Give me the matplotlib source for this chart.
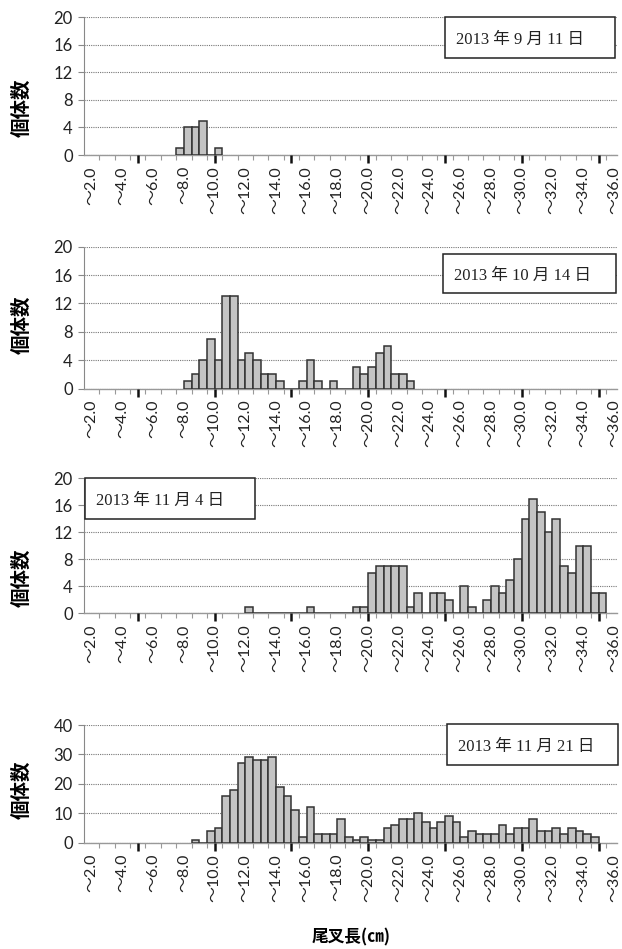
import numpy as np
import matplotlib
matplotlib.use("Agg")
import matplotlib.pyplot as plt
from matplotlib.patches import Rectangle

plt.rcParams["font.family"] = ["Lato", "Noto Sans CJK JP", "DejaVu Sans"]

W, H = 622, 949

# 0.5 cm length classes, named by their upper bound; every 4th class is labelled
label_cm = [2.0, 4.0, 6.0, 8.0, 10.0, 12.0, 14.0, 16.0, 18.0,
            20.0, 22.0, 24.0, 26.0, 28.0, 30.0, 32.0, 34.0, 36.0]
x_labels = ["～" + f"{v:.1f}" for v in label_cm]

dates = ["2013 年 9 月 11 日", "2013 年 10 月 14 日",
         "2013 年 11 月 4 日", "2013 年 11 月 21 日"]

# counts per class, the first value belongs to the class "～<first>"
sep11_first = 8.0
sep11 = [1, 4, 4, 5, 0, 1]

oct14_first = 8.5
oct14 = [1, 2, 4, 7, 4, 13, 13, 4, 5, 4,
         2, 2, 1, 0, 0, 1, 4, 1, 0, 1,
         0, 0, 3, 2, 3, 5, 6, 2, 2, 1]

nov04_first = 12.5
nov04 = [1, 0, 0, 0, 0, 0, 0, 0, 1, 0,
         0, 0, 0, 0, 1, 1, 6, 7, 7, 7,
         7, 1, 3, 0, 3, 3, 2, 0, 4, 1,
         0, 2, 4, 3, 5, 8, 14, 17, 15, 12,
         14, 7, 6, 10, 10, 3, 3]

nov21_first = 9.0
nov21 = [1, 0, 4, 5, 16, 18, 27, 29, 28, 28,
         29, 19, 16, 11, 2, 12, 3, 3, 3, 8,
         2, 1, 2, 1, 1, 5, 6, 8, 8, 10,
         7, 5, 7, 9, 7, 2, 4, 3, 3, 3,
         6, 3, 5, 5, 8, 4, 4, 5, 3, 5,
         4, 3, 2]

y_max = [20, 20, 20, 40]
y_step = [4, 4, 4, 10]

panels = [(sep11_first, sep11), (oct14_first, oct14),
          (nov04_first, nov04), (nov21_first, nov21)]

# layout in pixels of the reference
axes_px = [(17.3, 155), (246.7, 388.5), (478.3, 613.3), (725, 842.7)]
box_px = [(445, 17, 615, 58), (443, 254, 616, 293),
          (85, 478.3, 254.5, 519.3), (447, 724, 618, 765)]
ylab_y = [108, 325, 578, 790]
x0_px, x1_px = 84, 617

fig = plt.figure(figsize=(W / 100, H / 100), dpi=100)

for i, (first, counts) in enumerate(panels):
    top, bottom = axes_px[i]
    ax = fig.add_axes([x0_px / W, 1 - bottom / H, (x1_px - x0_px) / W, (bottom - top) / H])

    upper = first + 0.5 * np.arange(len(counts))
    ax.bar(upper - 0.5, counts, width=0.5, align="edge",
           color="#c4c4c4", edgecolor="#333333", linewidth=1.1, zorder=3)

    ax.set_xlim(1.5, 36.2)
    ax.set_ylim(0, y_max[i])
    ax.set_yticks(np.arange(0, y_max[i] + 1, y_step[i]))
    ax.tick_params(axis="y", length=4.5, width=0.8, color="#888888",
                   pad=3.5, labelsize=12, labelcolor="#222222")

    ax.set_xticks(label_cm)
    ax.set_xticklabels(x_labels, rotation=90, fontsize=11.5, color="#222222")
    ax.tick_params(axis="x", length=0, pad=8)

    # small class ticks and the heavier 5 cm ticks below the axis
    ax.plot(np.arange(2.5, 36, 1.0), np.zeros(34), ls="none", marker=3, ms=3.5,
            mew=0.8, color="#999999", clip_on=False, zorder=4)
    ax.plot(np.arange(5, 36, 5), np.zeros(7), ls="none", marker=3, ms=6,
            mew=1.8, color="#111111", clip_on=False, zorder=4)

    ax.grid(axis="y", color="#777777", linestyle=(0, (1, 1)), linewidth=0.8)
    ax.set_axisbelow(True)
    for s in ["top", "right"]:
        ax.spines[s].set_visible(False)
    ax.spines["left"].set_color("#888888")
    ax.spines["left"].set_linestyle((0, (1, 1)))
    ax.spines["left"].set_linewidth(0.8)
    ax.spines["bottom"].set_color("#999999")
    ax.spines["bottom"].set_linewidth(1.0)

    bx0, by0, bx1, by1 = box_px[i]
    fig.add_artist(Rectangle((bx0 / W, 1 - by1 / H), (bx1 - bx0) / W, (by1 - by0) / H,
                             transform=fig.transFigure, facecolor="white",
                             edgecolor="#222222", linewidth=1.1))
    fig.text((bx0 + 11) / W, 1 - ((by0 + by1) / 2 + 2.5) / H, dates[i],
             ha="left", va="center", fontsize=12, color="#222222",
             family=["Liberation Serif", "Noto Sans CJK JP"])

    fig.text(22 / W, 1 - ylab_y[i] / H, "個体数", rotation=90, ha="center", va="center",
             fontsize=14, fontweight="bold", family=["Noto Sans CJK JP"])

fig.text(351 / W, 1 - 937 / H, "尾叉長(㎝)", ha="center", va="center",
         fontsize=12, fontweight="bold", family=["Noto Sans CJK JP"])

fig.savefig("out.png", dpi=100)
